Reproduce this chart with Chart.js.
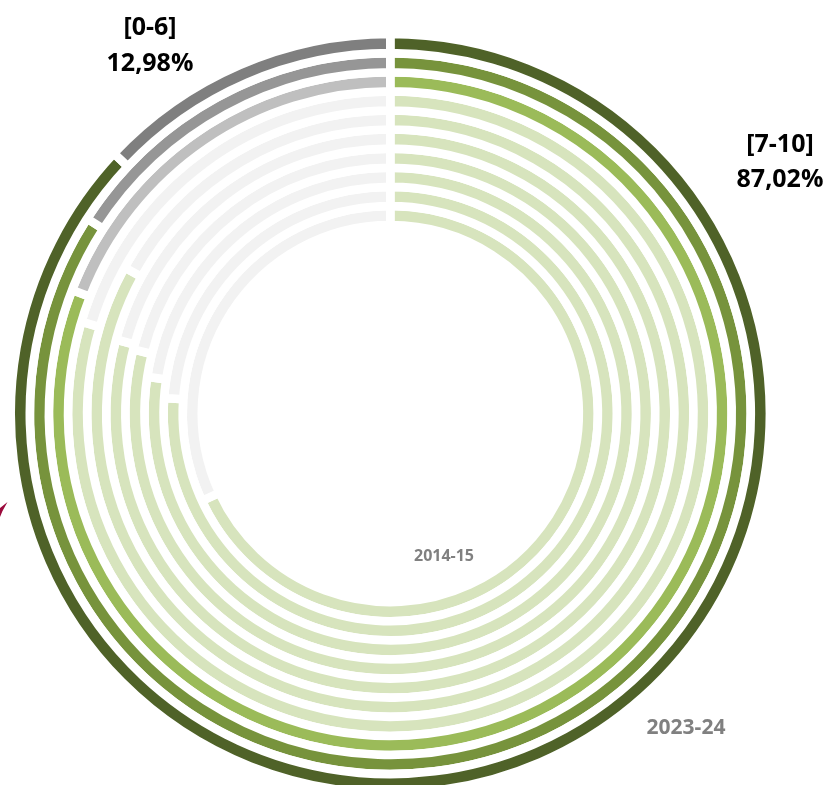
<!DOCTYPE html>
<html>
<head>
<meta charset="utf-8">
<script src="https://cdn.jsdelivr.net/npm/chart.js@4/dist/chart.umd.min.js"></script>
<style>
  html, body { margin: 0; padding: 0; background: #fff; overflow: hidden; }
  #wrap { position: relative; width: 827px; height: 785px; }
  canvas { display: block; }
  .lbl { position: absolute; transform: translate(-50%, -50%); font-family: "Open Sans", sans-serif;
         font-weight: 700; line-height: 1; white-space: nowrap; }
  #arrow { position: absolute; left: 0; top: 495px; }
</style>
</head>
<body>
<div id="wrap">
  <canvas id="c" width="827" height="785"></canvas>
  <div class="lbl" style="left:150px; top:25px; font-size:25px; color:#000;">[0-6]</div>
  <div class="lbl" style="left:150px; top:61px; font-size:25px; color:#000;">12,98%</div>
  <div class="lbl" style="left:780px; top:142px; font-size:25px; color:#000;">[7-10]</div>
  <div class="lbl" style="left:780px; top:177px; font-size:25px; color:#000;">87,02%</div>
  <div class="lbl" style="left:444px; top:555px; font-size:16px; color:#808080;">2014-15</div>
  <div class="lbl" style="left:686px; top:726px; font-size:21px; color:#808080;">2023-24</div>
  <svg id="arrow" width="12" height="26" viewBox="0 0 12 26">
    <polygon points="7.5,7 0,13 0,22 2.5,16" fill="#9b0a3c"/>
  </svg>
</div>
<script>
// ---- data ----
const seasons  = ['2014-15','2015-16','2016-17','2017-18','2018-19','2019-20','2020-21','2021-22','2022-23','2023-24'];
const categories = ['[7-10]', '[0-6]'];
const grade7to10 = [68.1, 76.1, 77.4, 78.9, 79.2, 83.0, 79.6, 80.9, 84.1, 87.02];
const grade0to6  = [31.9, 23.9, 22.6, 21.1, 20.8, 17.0, 20.4, 19.1, 15.9, 12.98];

// ---- styles ----
const greenColors = ['#d7e4bd','#d7e4bd','#d7e4bd','#d7e4bd','#d7e4bd','#d7e4bd','#d7e4bd','#9bbb59','#77933c','#4f6228'];
const greyColors  = ['#f2f2f2','#f2f2f2','#f2f2f2','#f2f2f2','#f2f2f2','#f2f2f2','#f2f2f2','#bfbfbf','#969696','#7f7f7f'];

// outermost ring first (most recent season)
const datasets = [];
for (let i = seasons.length - 1; i >= 0; i--) {
  datasets.push({
    label: seasons[i],
    data: [grade7to10[i], grade0to6[i]],
    backgroundColor: [greenColors[i], greyColors[i]],
    borderColor: '#ffffff',
    borderWidth: 8.6,
    borderAlign: 'center',
    hoverOffset: 0,
    clip: false
  });
}

new Chart(document.getElementById('c'), {
  type: 'doughnut',
  data: { labels: categories, datasets: datasets },
  options: {
    responsive: false,
    devicePixelRatio: 1,
    animation: false,
    events: [],
    radius: 379.6,
    cutout: '49.66%',
    rotation: 0,
    circumference: 360,
    layout: { padding: { left: 0, right: 46.4, top: 42.2, bottom: 0 } },
    plugins: { legend: { display: false }, tooltip: { enabled: false }, title: { display: false } }
  }
});
</script>
</body>
</html>
